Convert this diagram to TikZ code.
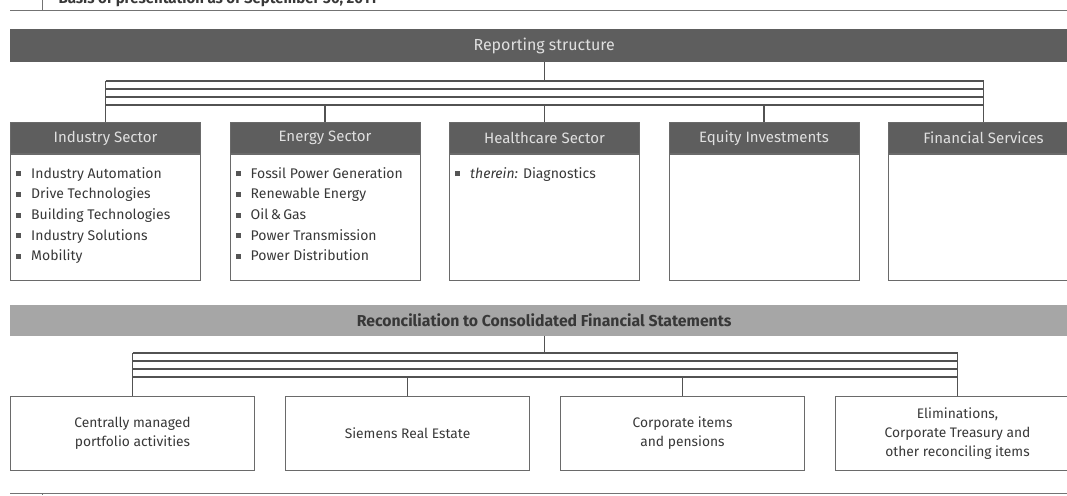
\documentclass[tikz,border=0pt]{standalone}
\usepackage{fontspec}
\setmainfont{Fira Sans}
\usepackage{tikz}
\usetikzlibrary{positioning, calc}
\definecolor{bardark}{HTML}{5E5E5E}
\definecolor{barlight}{HTML}{A6A6A6}
\definecolor{headtext}{HTML}{E0E0E0}
\definecolor{bodytext}{HTML}{383838}
\definecolor{framegray}{HTML}{6A6A6A}
\definecolor{bullgray}{HTML}{555555}
\tikzset{
	reportbar/.style={fill=bardark, text=headtext, minimum width=1068, minimum height=33, inner sep=0, font=\fontsize{16}{18}\selectfont}
}
\tikzset{
	reconbar/.style={fill=barlight, text=bodytext, minimum width=1068, minimum height=31, inner sep=0, font=\fontsize{15.8}{18}\selectfont\bfseries}
}
\tikzset{
	sechead/.style={fill=bardark, draw=framegray, line width=1, text=headtext, minimum width=190, minimum height=31, inner sep=0, font=\fontsize{15}{17}\selectfont},
	secbody/.style={draw=framegray, line width=1, minimum width=190, minimum height=126, inner sep=0},
	itemlist/.style={align=left, text=bodytext, inner sep=0, font=\fontsize{14}{20.7}\selectfont},
	recbox/.style={draw=framegray, line width=1, minimum width=244, minimum height=74, inner sep=0, align=center, text=bodytext, font=\fontsize{13.8}{19}\selectfont},
	busline/.style={draw=black!68, line width=1.1},
	frameline/.style={draw=black!55, line width=1}
}
\newcommand{\bitem}[1]{\textcolor{bullgray}{\rule[2pt]{5pt}{5pt}}\hspace{10pt}#1}

\begin{document}
\begin{tikzpicture}[x=1pt, y=-1pt]
  \clip (0,0) rectangle (1067,495);
  % page rules and title
  \node[anchor=base west, text=bodytext, font=\fontsize{15}{17}\selectfont\bfseries] (ttl) at (55,4) {Basis of presentation as of September 30, 2011};
  \draw[frameline] (10,11) -- (1067,11);
  \draw[frameline] (42,0) -- (42,11);
  \draw[frameline] (10,493) -- (1067,493);
  \draw[frameline] (42,493) -- (42,495);

  % reporting structure
  \node[reportbar, anchor=north west] (rep) at (10,29) {Reporting structure};
  \foreach \n/\t [count=\i from 0] in {ind/Industry Sector, ene/Energy Sector, hea/Healthcare Sector, equ/Equity Investments, fin/Financial Services}{
    \node[sechead, anchor=north west] (\n-h) at (10+219.5*\i,122) {\t};
    \node[secbody, anchor=north] (\n) at (\n-h.south) {};
  }
  \node[itemlist, anchor=north west] (ind-l) at ([shift={(6,13)}]ind.north west)
    {\bitem{Industry Automation}\\ \bitem{Drive Technologies}\\ \bitem{Building Technologies}\\ \bitem{Industry Solutions}\\ \bitem{Mobility}};
  \node[itemlist, anchor=north west] (ene-l) at ([shift={(6,13)}]ene.north west)
    {\bitem{Fossil Power Generation}\\ \bitem{Renewable Energy}\\ \bitem{Oil\,\&\,Gas}\\ \bitem{Power Transmission}\\ \bitem{Power Distribution}};
  \node[itemlist, anchor=north west] (hea-l) at ([shift={(6,13)}]hea.north west)
    {\bitem{\textit{therein:} Diagnostics}};

  \foreach \k/\y in {1/81, 2/89, 3/97, 4/105}
    \coordinate (bus\k) at (0,\y);
  \foreach \k in {1,...,4}
    \draw[busline] (ind-h.north |- bus\k) -- (fin-h.north |- bus\k);
  \draw[busline] (rep.south) -- (rep.south |- bus1);
  \draw[busline] (ind-h.north |- bus1) -- (ind-h.north);
  \draw[busline] (fin-h.north |- bus1) -- (fin-h.north);
  \foreach \n in {ene, hea, equ}
    \draw[busline] (\n-h.north |- bus4) -- (\n-h.north);

  % reconciliation
  \node[reconbar, anchor=north west] (rec) at (10,305) {Reconciliation to Consolidated Financial Statements};
  \node[recbox, anchor=north west] (cen) at (10,396) {Centrally managed\\portfolio activities};
  \node[recbox, right=30 of cen] (sre) {Siemens Real Estate};
  \node[recbox, right=30 of sre] (cor) {Corporate items\\and pensions};
  \node[recbox, right=30 of cor] (eli) {Eliminations,\\Corporate Treasury and\\other reconciling items};

  \foreach \k/\y in {1/353, 2/361, 3/369, 4/377}
    \coordinate (rbus\k) at (0,\y);
  \foreach \k in {1,...,4}
    \draw[busline] (cen.north |- rbus\k) -- (eli.north |- rbus\k);
  \draw[busline] (rec.south) -- (rec.south |- rbus1);
  \draw[busline] (cen.north |- rbus1) -- (cen.north);
  \draw[busline] (eli.north |- rbus1) -- (eli.north);
  \foreach \n in {sre, cor}
    \draw[busline] (\n.north |- rbus4) -- (\n.north);
\end{tikzpicture}
\end{document}
